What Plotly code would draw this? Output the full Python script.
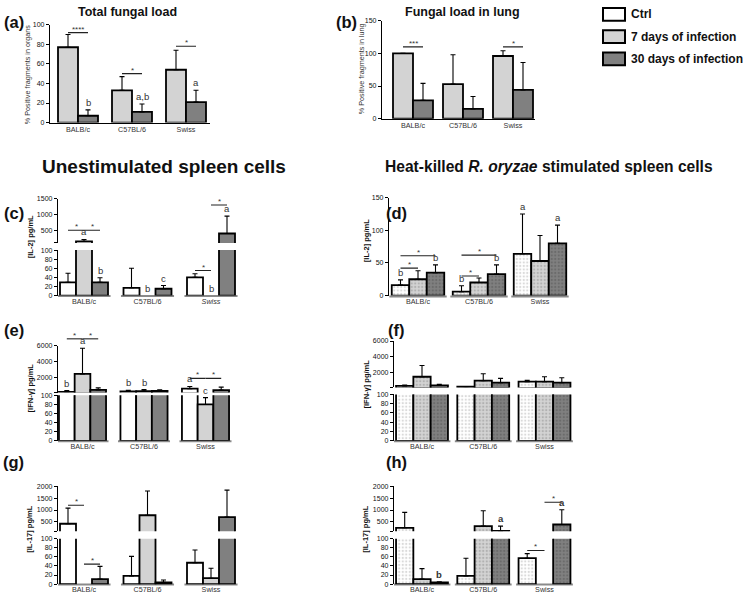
import plotly.graph_objects as go

W, H = 746, 598
FONT = "Liberation Sans, Arial, Helvetica, sans-serif"

# ------------------------------------------------------------------ data
strains = ["BALB/c", "C57BL/6", "Swiss"]
series = ["Ctrl", "7 days of infection", "30 days of infection"]

# (a) Total fungal load - % positive fragments in organs (7 d, 30 d)
a_7d, a_7d_sd = [77, 33, 54], [13, 14, 20]
a_30d, a_30d_sd = [7, 11, 21], [6, 8, 12]
a_letters = [(0, 1, "b"), (1, 1, "a,b"), (2, 1, "a")]
a_brackets = [(0, 0, 1, 92, "****"), (1, 0, 1, 50, "*"), (2, 0, 1, 78, "*")]

# (b) Fungal load in lung (7 d, 30 d)
b_7d, b_7d_sd = [100, 53, 96], [0, 45, 8]
b_30d, b_30d_sd = [28, 15, 44], [26, 19, 42]
b_brackets = [(0, 0, 1, 110, "***"), (2, 0, 1, 110, "*")]

# (c) IL-2, unstimulated spleen cells
c_ctrl, c_ctrl_sd = [29, 17, 40], [20, 43, 8]
c_7d, c_7d_sd = [150, None, None], [60, 0, 0]
c_30d, c_30d_sd = [29, 15, 400], [10, 7, 550]
c_letters = [(0, 1, "a"), (0, 2, "b"), (1, 1, "b"), (1, 2, "c"), (2, 1, "b"), (2, 2, "a")]
c_brackets = [(0, 0, 1, 500, "*"), (0, 1, 2, 500, "*"), (2, 0, 1, 55, "*"), (2, 1, 2, 1300, "*")]

# (d) IL-2, stimulated
d_ctrl, d_ctrl_sd = [16, 6, 64], [8, 9, 61]
d_7d, d_7d_sd = [25, 20, 53], [13, 7, 39]
d_30d, d_30d_sd = [35, 33, 80], [12, 14, 28]
d_letters = [(0, 0, "b"), (0, 2, "b"), (1, 0, "b"), (1, 2, "b"), (2, 0, "a"), (2, 2, "a")]
d_brackets = [(0, 0, 1, 42, "*"), (0, 0, 2, 61, "*"), (1, 0, 1, 30, "*"), (1, 0, 2, 62, "*")]

# (e) IFN-gamma, unstimulated
e_ctrl, e_ctrl_sd = [200, 250, 590], [150, 150, 285]
e_7d, e_7d_sd = [2460, 280, 80], [3240, 200, 15]
e_30d, e_30d_sd = [450, 300, 410], [250, 150, 380]
e_letters = [(0, 0, "b"), (0, 1, "a"), (1, 0, "b"), (1, 1, "b"), (2, 0, "a"), (2, 1, "c")]
e_brackets = [(0, 0, 1, 6900, "*"), (0, 1, 2, 6900, "*"), (2, 0, 1, 1900, "*"), (2, 1, 2, 1900, "*")]

# (f) IFN-gamma, stimulated
f_ctrl, f_ctrl_sd = [290, 210, 840], [110, 0, 160]
f_7d, f_7d_sd = [1460, 960, 840], [1420, 880, 620]
f_30d, f_30d_sd = [375, 710, 710], [125, 540, 630]

# (g) IL-17, unstimulated
g_ctrl, g_ctrl_sd = [420, 18, 47], [660, 43, 28]
g_7d, g_7d_sd = [None, 780, 13], [0, 1020, 22]
g_30d, g_30d_sd = [11, 4, 700], [28, 5, 1140]
g_brackets = [(0, 0, 1, 1200, "*"), (0, 1, 2, 44, "*")]

# (h) IL-17, stimulated
h_ctrl, h_ctrl_sd = [250, 18, 57], [650, 39, 10]
h_7d, h_7d_sd = [11, 320, None], [23, 650, 0]
h_30d, h_30d_sd = [4, 120, 390], [1, 200, 620]
h_letters = [(0, 2, "b"), (1, 2, "a"), (2, 2, "a")]
h_brackets = [(2, 0, 1, 74, "*"), (2, 1, 2, 1330, "*")]

# ------------------------------------------------------------------ style
fills = ["#ffffff", "#d3d3d3", "#808080"]
dot_fg = ["#b5b5b5", "#8f8f8f", "#555555"]

traces, shapes, annotations = [], [], []
layout = dict(
    width=W, height=H, margin=dict(l=0, r=0, t=0, b=0),
    paper_bgcolor="white", plot_bgcolor="rgba(0,0,0,0)",
    showlegend=False, barmode="overlay",
    font=dict(family=FONT, color="#222"),
)


def axname(letter, n):
    return f"{letter}axis" + ("" if n == 1 else str(n))


def ref(letter, n):
    return letter + ("" if n == 1 else str(n))


def panel(xn, geom, vals, sds, sidx, yaxes, patterned=False, ticktext=None,
          xline=False, letters=(), brackets=(), bold_letters=False):
    L, R, c0, s, bw = geom
    n = len(vals)
    w = bw / s
    layout[axname("x", xn)] = dict(
        domain=[L / W, R / W], range=[(L - c0) / s, (R - c0) / s],
        anchor=ref("y", yaxes[0]["n"]), type="category",
        tickvals=strains, ticktext=ticktext or strains,
        showline=xline, linecolor="black", linewidth=1.2, ticks="",
        tickfont=dict(size=7.2, color="#333"), showgrid=False, zeroline=False,
        fixedrange=True,
    )
    for idx, ya in enumerate(yaxes):
        bot, top = ya["px"]
        layout[axname("y", ya["n"])] = dict(
            domain=[1 - bot / H, 1 - top / H], range=list(ya["rng"]),
            anchor=ref("x", xn), showline=True, linecolor="black", linewidth=1.3,
            ticks="outside", ticklen=3, tickwidth=1, tickcolor="black",
            tickvals=ya["tv"], ticktext=ya.get("tt", [str(v) for v in ya["tv"]]),
            tickfont=dict(size=7, color="#111"), showgrid=False, zeroline=False,
            fixedrange=True,
        )
        floor = ya["rng"][0]
        for k in range(n):
            si = sidx[k]
            marker = dict(color=fills[si], line=dict(color="black", width=1.8))
            if patterned:
                marker["pattern"] = dict(shape=".", fillmode="overlay",
                                         fgcolor=dot_fg[si], size=3.5, solidity=0.35)
            # upper (broken) segment only shows values that reach it
            yv = [v if (v is not None and (idx == 0 or v > floor)) else None for v in vals[k]]
            traces.append(go.Bar(
                x=strains, y=yv, xaxis=ref("x", xn), yaxis=ref("y", ya["n"]),
                offset=-n * w / 2 + k * w, width=w, marker=marker,
                error_y=dict(type="data", array=[v if v else 0 for v in sds[k]],
                             arrayminus=[0, 0, 0], symmetric=False,
                             color="black", thickness=1.1, width=2.5),
                hoverinfo="skip",
            ))
    if not xline:
        for g in range(3):
            shapes.append(dict(
                type="line", layer="below", xref=ref("x", xn),
                yref=ref("y", yaxes[0]["n"]) + " domain",
                x0=g - n * w / 2 - 0.04, x1=g + n * w / 2 + 0.04, y0=-0.01, y1=-0.01,
                line=dict(color="#8a8a8a", width=2)))

    def yloc(v):
        a = yaxes[0]
        if len(yaxes) > 1 and v > a["rng"][1]:
            a = yaxes[1]
        r0, r1 = a["rng"]
        if v > r1:
            return ref("y", a["n"]) + " domain", (v - r0) / (r1 - r0)
        return ref("y", a["n"]), v

    def cx(g, k):
        return g - n * w / 2 + (k + 0.5) * w

    for g, k, t in letters:
        v = vals[k][g]
        top = (v + (sds[k][g] or 0)) if v else 0
        yr, yv = yloc(top)
        annotations.append(dict(
            x=cx(g, k), y=yv, xref=ref("x", xn), yref=yr, text=(f"<b>{t}</b>" if bold_letters else t),
            showarrow=False, yanchor="bottom", yshift=0,
            font=dict(size=9.5, color="#333")))
    for g, i, j, v, t in brackets:
        yr, yv = yloc(v)
        shapes.append(dict(type="line", xref=ref("x", xn), yref=yr,
                           x0=cx(g, i), x1=cx(g, j), y0=yv, y1=yv,
                           line=dict(color="#222", width=1.1)))
        annotations.append(dict(
            x=(cx(g, i) + cx(g, j)) / 2, y=yv, xref=ref("x", xn), yref=yr, text=t,
            showarrow=False, yanchor="bottom", yshift=-3, font=dict(size=8, color="#333")))


lo100 = [0, 20, 40, 60, 80, 100]

# (a)
panel(1, (50, 210, 78, 54, 20), [a_7d, a_30d], [a_7d_sd, a_30d_sd], [1, 2],
      [dict(n=1, rng=(0, 100), px=(120, 21), tv=lo100)],
      xline=True, letters=a_letters, brackets=a_brackets)
# (b)
panel(2, (382, 535, 413, 50, 20), [b_7d, b_30d], [b_7d_sd, b_30d_sd], [1, 2],
      [dict(n=2, rng=(0, 150), px=(116, 17), tv=[0, 50, 100, 150])],
      xline=True, brackets=b_brackets)
# (c)
panel(3, (58, 242, 84, 63.5, 16), [c_ctrl, c_7d, c_30d], [c_ctrl_sd, c_7d_sd, c_30d_sd], [0, 1, 2],
      [dict(n=3, rng=(0, 100), px=(295, 249), tv=lo100),
       dict(n=4, rng=(100, 1500), px=(241.8, 197), tv=[100, 500, 1000, 1500], tt=["", "500", "1000", "1500"])],
      ticktext=["BALB/c", "C57BL/6", "<i>Swiss</i>"], letters=c_letters, brackets=c_brackets)
# (d)
panel(4, (389, 575, 418, 61, 17.5), [d_ctrl, d_7d, d_30d], [d_ctrl_sd, d_7d_sd, d_30d_sd], [0, 1, 2],
      [dict(n=5, rng=(0, 150), px=(295, 196), tv=[0, 50, 100, 150])],
      patterned=True, letters=d_letters, brackets=d_brackets)
# (e)
panel(5, (58, 240, 82.5, 61.5, 15.7), [e_ctrl, e_7d, e_30d], [e_ctrl_sd, e_7d_sd, e_30d_sd], [0, 1, 2],
      [dict(n=6, rng=(0, 100), px=(442, 396), tv=lo100),
       dict(n=7, rng=(100, 6000), px=(393.2, 346), tv=[100, 2000, 4000, 6000], tt=["", "2000", "4000", "6000"])],
      letters=e_letters, brackets=e_brackets)
# (f)
panel(6, (394, 575, 422, 61.25, 17.3), [f_ctrl, f_7d, f_30d], [f_ctrl_sd, f_7d_sd, f_30d_sd], [0, 1, 2],
      [dict(n=8, rng=(0, 100), px=(442, 395), tv=lo100),
       dict(n=9, rng=(100, 6000), px=(388, 341), tv=[100, 2000, 4000, 6000], tt=["", "2000", "4000", "6000"])],
      patterned=True)
# (g)
panel(7, (58, 242, 84, 63.5, 16), [g_ctrl, g_7d, g_30d], [g_ctrl_sd, g_7d_sd, g_30d_sd], [0, 1, 2],
      [dict(n=10, rng=(0, 100), px=(587, 541), tv=lo100),
       dict(n=11, rng=(100, 2000), px=(533.6, 488), tv=[100, 500, 1000, 1500, 2000],
            tt=["", "500", "1000", "1500", "2000"])],
      brackets=g_brackets)
# (h)
panel(8, (394, 575, 422, 61.25, 17.3), [h_ctrl, h_7d, h_30d], [h_ctrl_sd, h_7d_sd, h_30d_sd], [0, 1, 2],
      [dict(n=12, rng=(0, 100), px=(587, 541), tv=lo100),
       dict(n=13, rng=(100, 2000), px=(533.6, 488), tv=[100, 500, 1000, 1500, 2000],
            tt=["", "500", "1000", "1500", "2000"])],
      patterned=True, letters=h_letters, brackets=h_brackets, bold_letters=True)


def ptext(x, y, text, size, bold=False, angle=0, xanchor="center", color="#111"):
    annotations.append(dict(
        x=x / W, y=1 - y / H, xref="paper", yref="paper", showarrow=False,
        text=f"<b>{text}</b>" if bold else text, textangle=angle,
        xanchor=xanchor, yanchor="middle", font=dict(size=size, color=color)))


# panel titles / labels
ptext(127, 8, "Total fungal load", 12.5, bold=True)
ptext(462, 8, "Fungal load in lung", 12.5, bold=True)
for lab, x, y in [("(a)", 14, 18), ("(b)", 346, 18), ("(c)", 14, 211), ("(d)", 396, 211),
                  ("(e)", 14, 330), ("(f)", 396, 330), ("(g)", 14, 463), ("(h)", 396, 463)]:
    ptext(x, y, lab, 16.5, bold=True)
ptext(164, 164, "Unestimulated spleen cells", 19, bold=True)
ptext(549, 164, "Heat-killed <i>R. oryzae</i> stimulated spleen cells", 15.6, bold=True)

# y-axis titles
ptext(27, 72, "% Positive fragments in organs", 7.2, angle=-90, color="#333")
ptext(361, 66, "% Positive fragments in lung", 7.2, angle=-90, color="#333")
for x, y, t in [(30, 236, "[IL-2] pg/mL"), (366, 240, "[IL-2] pg/mL"),
                (30, 389, "[IFN-γ] pg/mL"), (366, 385, "[IFN-γ] pg/mL"),
                (30, 532, "[IL-17] pg/mL"), (366, 532, "[IL-17] pg/mL")]:
    ptext(x, y, t, 7.5, bold=True, angle=-90)

# legend (drawn boxes + labels)
for i, name in enumerate(series):
    yc = 10.5 + i * 22.5
    shapes.append(dict(type="rect", xref="paper", yref="paper",
                       x0=603 / W, x1=625 / W, y0=1 - (yc + 6.5) / H, y1=1 - (yc - 6.5) / H,
                       fillcolor=fills[i], line=dict(color="black", width=2)))
    ptext(629, yc, name, 12, bold=True, xanchor="left")

layout["shapes"] = shapes
layout["annotations"] = annotations
fig = go.Figure(data=traces, layout=layout)
fig.write_html("out.html", config={"displayModeBar": False},
               post_script="document.body.style.margin='0px';")
